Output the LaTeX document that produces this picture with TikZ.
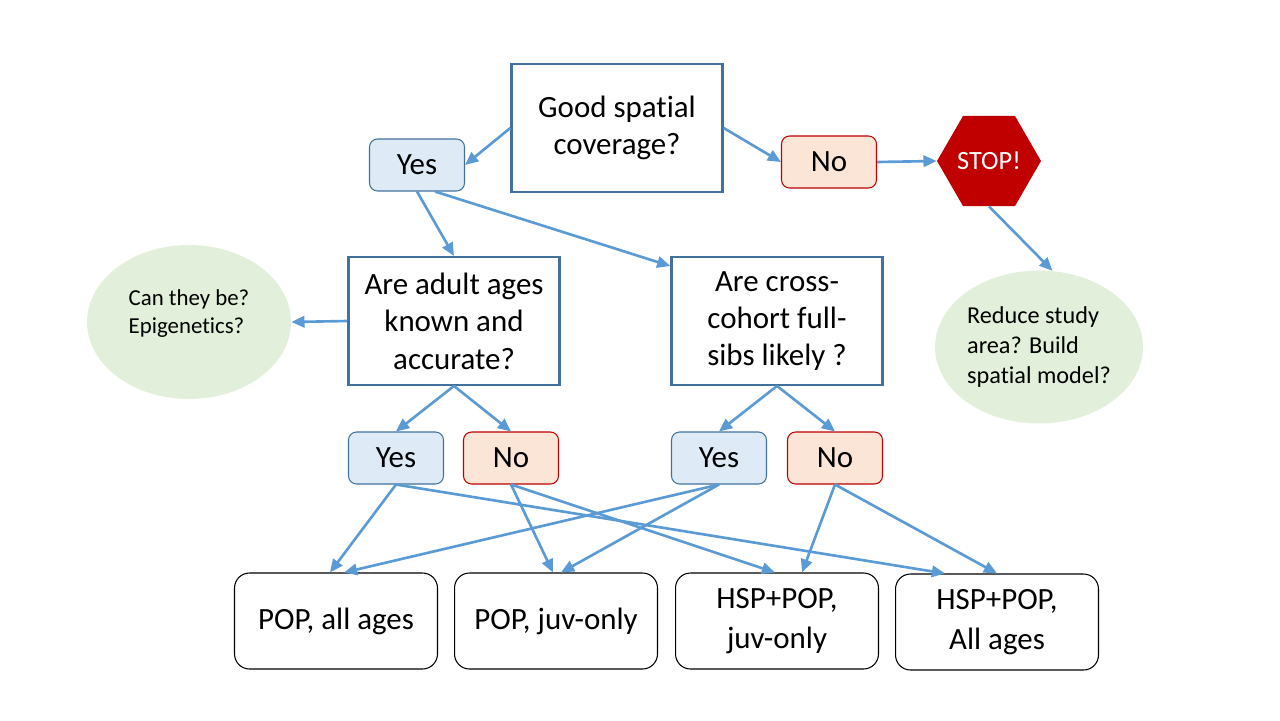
\documentclass[tikz,border=0pt]{standalone}
\usepackage{fontspec}
\setmainfont{Carlito}[Ligatures=NoCommon]
\usetikzlibrary{arrows.meta,shapes.geometric}
\definecolor{arrowblue}{HTML}{5B9BD5}
\definecolor{boxblue}{HTML}{41719C}
\definecolor{yesfill}{HTML}{DEEBF7}
\definecolor{nofill}{HTML}{FBE5D6}
\definecolor{stopred}{HTML}{C00000}
\definecolor{notefill}{HTML}{E2EFDA}

\begin{document}
\begin{tikzpicture}[x=0.02cm, y=-0.02cm,
  question/.style={draw=boxblue, line width=1.4pt, minimum width=4.22cm, minimum height=2.55cm, align=center, font=\fontsize{17.6}{21.3}\selectfont},
  yesbox/.style={draw=boxblue, fill=yesfill, rounded corners=0.16cm, line width=0.6pt, minimum width=1.9cm, minimum height=1.04cm, font=\fontsize{17.6}{21.3}\selectfont},
  nobox/.style={yesbox, draw=stopred, fill=nofill},
  result/.style={draw, rounded corners=0.3cm, line width=0.6pt, minimum width=4.06cm, minimum height=1.92cm, align=center, font=\fontsize{17.6}{22.7}\selectfont},
  note/.style={ellipse, fill=notefill, align=left, inner sep=0pt},
  flow/.style={draw=arrowblue, line width=1.5pt, -{Triangle[length=7.5pt,width=6.5pt]}}]
  \useasboundingbox (0,0) rectangle (1280,720);

  % questions
  \node[question] (q1) at (617,128) {Good spatial\\coverage?};
  \node[question] (q2) at (454,321) {Are adult ages\\known and\\accurate?};
  \node[question] (q3) at (777,321) {Are cross-\\cohort full-\\sibs likely ?};

  % answers
  \node[yesbox] (yes0) at (417,165) {Yes};
  \node[nobox] (no0) at (829,162) {No};
  \node[yesbox] (yes1) at (396,458) {Yes};
  \node[nobox] (no1) at (511,458) {No};
  \node[yesbox] (yes2) at (719,458) {Yes};
  \node[nobox] (no2) at (835,458) {No};

  \node[regular polygon, regular polygon sides=6, minimum size=2.04cm, inner sep=0pt,
        fill=stopred, text=white, font=\fontsize{15}{18}\selectfont] (stop) at (989,161) {STOP!};

  % notes
  \node[note, minimum width=4.08cm, minimum height=3.08cm, text depth=0.42cm, font=\fontsize{13}{16}\selectfont]
    (ell1) at (189,322) {Can they be?\\Epigenetics?};
  \node[note, minimum width=4.16cm, minimum height=3.06cm, font=\fontsize{13.8}{17}\selectfont]
    (ell2) at (1039,347) {Reduce study\\area? Build\\spatial model?};

  % outcomes
  \node[result] (b1) at (336,621) {POP, all ages};
  \node[result] (b2) at (556,621) {POP, juv-only};
  \node[result] (b3) at (777,621) {HSP+POP,\\juv-only};
  \node[result] (b4) at (997,622) {HSP+POP,\\All ages};

  % connectors
  \draw[flow] (q1.west) -- (yes0.east);
  \draw[flow] (q1.east) -- (no0.west);
  \draw[flow] (no0.east) -- (stop.west);
  \draw[flow] (stop.south) -- (ell2.80);
  \draw[flow] (yes0.south) -- (q2.north);
  \draw[flow] ([xshift=0.36cm]yes0.south) -- ([yshift=-0.2cm]q3.north west);
  \draw[flow] (q2.west) -- (ell1.east);
  \draw[flow] (q2.south) -- (yes1.north);
  \draw[flow] (q2.south) -- (no1.north);
  \draw[flow] (q3.south) -- (yes2.north);
  \draw[flow] (q3.south) -- (no2.north);
  \draw[flow] (yes1.south) -- ([xshift=-0.12cm]b1.north);
  \draw[flow] (yes1.south) -- ([xshift=-1.04cm]b4.north);
  \draw[flow] (no1.south) -- ([xshift=-0.06cm]b2.north);
  \draw[flow] (no1.south) -- ([xshift=-0.04cm]b3.north);
  \draw[flow] (yes2.south) -- ([xshift=0.16cm]b1.north);
  \draw[flow] (yes2.south) -- ([xshift=0.1cm]b2.north);
  \draw[flow] (no2.south) -- ([xshift=0.5cm]b3.north);
  \draw[flow] (no2.south) -- (b4.north);
\end{tikzpicture}
\end{document}
